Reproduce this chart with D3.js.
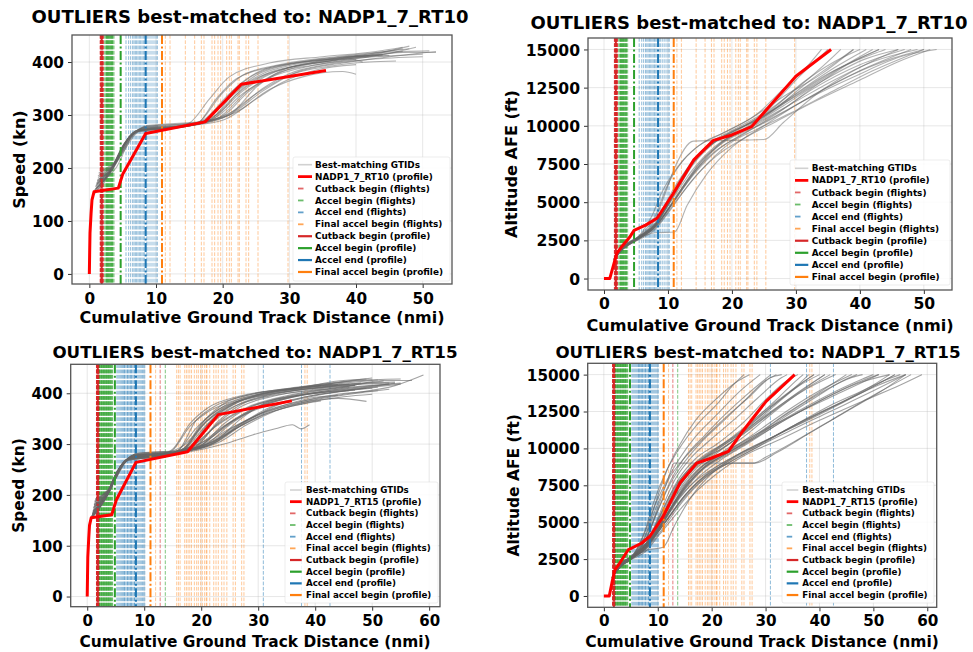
<!DOCTYPE html>
<html>
<head>
<meta charset="utf-8">
<script src="https://cdn.jsdelivr.net/npm/d3@7"></script>
<style>
  body { margin: 0; background: #fff; }
  svg { display: block; }
  text { font-family: "DejaVu Sans", sans-serif; font-weight: bold; fill: #000; }
</style>
</head>
<body>
<svg id="chart" width="973" height="652"></svg>
<script>
// ---------------------------------------------------------------------------
// Tick values
// ---------------------------------------------------------------------------
const xTicksRT10 = [0, 10, 20, 30, 40, 50];
const xTicksRT15 = [0, 10, 20, 30, 40, 50, 60];
const speedTicks = [0, 100, 200, 300, 400];
const altTicks = [0, 2500, 5000, 7500, 10000, 12500, 15000];

// ---------------------------------------------------------------------------
// Legend labels
// ---------------------------------------------------------------------------
const legendRT10 = ["Best-matching GTIDs", "NADP1_7_RT10 (profile)",
  "Cutback begin (flights)", "Accel begin (flights)", "Accel end (flights)", "Final accel begin (flights)",
  "Cutback begin (profile)", "Accel begin (profile)", "Accel end (profile)", "Final accel begin (profile)"];
const legendRT15 = ["Best-matching GTIDs", "NADP1_7_RT15 (profile)",
  "Cutback begin (flights)", "Accel begin (flights)", "Accel end (flights)", "Final accel begin (flights)",
  "Cutback begin (profile)", "Accel begin (profile)", "Accel end (profile)", "Final accel begin (profile)"];

// ---------------------------------------------------------------------------
// Reference procedure profiles: [distance nmi, value]
// ---------------------------------------------------------------------------
const rt10SpeedProfile = [[0,0],[0.05,40],[0.1,77],[0.26,114],[0.4,140],[0.7,155],[4.35,162],[5.0,188],[8.45,265],[17.35,287],[22.8,358],[35.5,384]];
const rt10AltProfile = [[0,0],[0.9,0],[1.5,900],[2.0,1650],[2.8,2100],[4.0,2700],[4.7,3150],[6.5,3500],[8.3,3950],[10.8,5550],[14,7750],[17.1,9050],[20,9400],[23.1,9950],[25.5,11100],[30,13250],[35.5,15000]];
const rt15SpeedProfile = [[0,0],[0.05,40],[0.1,77],[0.26,114],[0.4,140],[0.7,155],[4.3,161],[5.1,190],[8.55,264],[17.6,285],[23.0,358],[35.9,385]];
const rt15AltProfile = [[0,0],[1.0,0],[1.5,900],[2.04,1765],[2.8,2150],[4.5,3120],[6.97,3575],[8.5,4030],[11,5380],[14.1,7650],[17.2,9000],[20,9350],[23.1,9800],[25.8,11180],[30.1,13190],[35.4,15000]];

// Profile event distances: cutback, accel begin, accel end, final accel begin
const rt10ProfileEvents = [1.85, 4.7, 8.45, 10.9];
const rt15ProfileEvents = [1.85, 4.85, 8.55, 11.1];

// ---------------------------------------------------------------------------
// Per-flight event distances (nmi)
// ---------------------------------------------------------------------------
const rt10CutbackFlights = [1.62,1.66,1.7,1.73,1.76,1.79,1.82,1.85,1.88,1.9,1.92,1.95,1.98,2.01,2.04,2.07,1.74,1.87,1.96,2.1];
const rt10AccelBeginFlights = [2.3,2.45,2.55,2.65,2.75,2.85,2.95,3.05,3.15,3.25,3.35,3.45,3.55,3.7,2.6,2.9,3.1,3.3,3.5,2.7];
const rt10AccelEndFlights = [5.5,5.9,6.2,6.5,6.7,6.9,7.1,7.3,7.5,7.7,7.9,8.1,8.3,8.6,8.8,9.1,9.4,9.7,10.0,10.2];
const rt10FinalAccelFlights = [11.4,12.1,14.4,15.8,16.8,17.2,18.4,18.8,19.3,19.7,20.6,21.0,21.3,22.3,22.5,23.5,23.9,25.3,29.8];

const rt15CutbackFlights = [1.62,1.65,1.68,1.7,1.72,1.74,1.76,1.78,1.8,1.82,1.84,1.86,1.88,1.9,1.92,1.94,1.96,1.98,2.0,2.02,2.04,2.06,2.08,2.1,1.75,1.83,1.91,1.99,12.8];
const rt15AccelBeginFlights = [2.15,2.25,2.35,2.45,2.55,2.65,2.75,2.85,2.95,3.05,3.15,3.25,3.35,3.45,3.55,3.65,3.75,3.85,3.95,4.05,4.15,4.25,4.35,4.45,2.5,2.8,3.1,3.4,3.7,4.0,13.7];
const rt15AccelEndFlights = [5.2,5.4,5.6,5.8,6.0,6.2,6.4,6.6,6.8,7.0,7.2,7.4,7.6,7.8,8.0,8.2,8.4,8.7,8.9,9.1,9.3,9.5,9.7,9.9,10.1,6.5,7.1,7.7,8.3,30.9,37.6,42.6];
const rt15FinalAccelFlights = [12.0,15.7,16.0,16.3,17.1,17.4,17.7,18.0,18.3,18.8,19.2,19.5,19.9,20.2,20.6,20.9,21.0,21.5,22.2,22.6,23.0,23.6,24.0,24.5,25.6,26.0,27.1,27.5,38.2,38.6];

// ---------------------------------------------------------------------------
// Flight traces, flat [x0, y0, x1, y1, ...]
// ---------------------------------------------------------------------------
const rt10SpeedTraces = [
  [0.9,155, 2.2,172, 3.2,195, 5.5,250, 7.2,270, 13,278, 17,290, 21,340, 25,378, 32,400, 40,412, 47,425],
  [1.1,170, 2.0,182, 3.5,205, 6.0,258, 7.8,275, 15,282, 19,300, 23,345, 28,382, 36,402, 44,418, 51,421],
  [0.7,150, 1.8,168, 2.8,188, 4.8,235, 6.8,268, 12,275, 16,282, 19,330, 22,368, 28,392, 36,405, 42,412],
  [1.3,185, 2.4,195, 3.8,210, 6.2,255, 8.2,278, 16,285, 21,300, 26,345, 31,380, 38,398, 45,410, 52,420],
  [1.0,160, 2.5,180, 4.0,200, 6.5,262, 8.0,272, 14,277, 18,295, 22,352, 26,385, 33,402, 39,406, 41,400],
  [0.8,158, 2.1,175, 3.1,192, 5.2,245, 7.0,270, 13,276, 17,285, 20,320, 24,362, 30,390, 37,404, 44,414, 49,428],
  [1.2,175, 2.3,190, 3.6,205, 5.8,252, 7.6,273, 15,280, 20,295, 25,340, 30,375, 36,392, 42,400, 46,402],
  [0.9,165, 2.0,180, 3.3,198, 5.6,250, 7.4,272, 14,279, 18,288, 23,350, 27,380, 34,398, 40,408, 48,430],
  [1.4,190, 2.6,200, 4.2,215, 6.8,262, 8.6,280, 17,288, 22,305, 27,348, 32,372, 38,382, 40,377],
  [1.0,168, 2.2,180, 3.4,196, 5.4,248, 7.2,270, 12,275, 15,285, 18,330, 21,372, 27,398, 35,410, 43,420, 47,428],
  [0.8,155, 1.9,172, 3.0,190, 5.0,240, 6.9,268, 14,278, 18,290, 22,338, 26,372, 32,395, 39,410, 45,412],
  [1.2,178, 2.4,188, 3.7,203, 6.1,256, 8.0,276, 16,284, 20,298, 24,345, 29,382, 35,400, 43,410, 50,415],
  [1.0,162, 2.2,176, 3.2,192, 5.3,246, 7.1,270, 13,277, 17,286, 21,335, 25,375, 31,398, 38,410, 44,413],
  [1.1,172, 2.3,185, 3.5,200, 6.0,258, 7.9,274, 15,281, 19,292, 24,348, 28,378, 34,395, 41,408, 47,418, 52,418],
  [0.9,160, 2.0,176, 3.1,193, 5.1,243, 7.0,269, 14,279, 19,296, 23,340, 27,370, 33,392, 40,404],
  [1.3,182, 2.5,193, 3.9,208, 6.4,260, 8.3,277, 17,287, 22,310, 26,350, 30,378, 36,396, 42,405, 50,410],
  [0.8,158, 2.0,174, 3.0,190, 5.0,242, 6.8,267, 12,274, 16,283, 20,342, 23,375, 29,396, 37,410, 43,418, 48,425],
  [1.1,170, 2.2,182, 3.4,198, 5.7,252, 7.5,272, 15,280, 20,290, 25,330, 29,362, 34,385, 40,395],
  [1.0,165, 2.4,182, 3.6,200, 5.9,255, 7.7,273, 14,278, 18,290, 22,345, 26,378, 31,396, 38,408, 44,415],
  [1.2,175, 2.1,185, 3.3,197, 5.5,250, 7.3,271, 16,283, 21,300, 25,352, 29,385, 35,402, 42,412, 47,420]
];

const rt10AltTraces = [
  [1.6,1300, 3,2000, 5,2600, 8,3500, 11,5500, 14,7500, 17,8800, 21,9800, 26,11000, 31,12800, 36,14200, 40,15000],
  [1.8,1500, 3.2,2100, 5.5,2700, 8.5,3800, 10,5200, 13,7200, 16,8600, 20,9600, 25,10600, 30,12000, 36,13600, 43,15000],
  [1.5,1200, 2.8,1900, 4.8,2500, 7.5,3200, 10.5,4800, 14,6800, 18,8500, 22,9500, 27,10800, 33,12500, 40,14000, 47,15000],
  [1.7,1400, 3.0,2050, 5.2,2650, 8.0,3900, 9.5,5500, 11,7200, 14,9000, 25,9100, 28,10200, 33,12000, 39,13600, 46,15000],
  [1.6,1350, 3.1,2000, 5.0,2550, 8.0,3000, 11,3050, 13,4800, 16,6800, 20,8600, 25,10000, 31,11600, 38,13200, 45,14400, 50,15000],
  [1.9,1600, 3.3,2200, 5.6,2800, 8.2,3600, 11,5800, 14,7800, 17,9000, 21,9900, 26,11200, 30,13000, 33,14200, 35,15000],
  [1.5,1250, 2.9,1950, 4.9,2450, 7.8,3300, 10.8,5000, 14.5,7200, 18,8800, 23,10000, 28,11300, 34,12900, 41,14400, 46,15000],
  [1.7,1450, 3.0,2050, 5.3,2600, 8.4,3700, 11.5,6000, 15,8200, 19,9400, 24,10400, 29,11800, 35,13400, 42,14700, 44,15000],
  [1.6,1300, 3.1,2000, 5.1,2500, 8.0,3400, 10.2,4600, 13,6400, 17,8200, 21,9300, 26,10400, 32,11800, 39,13200, 47,14600, 52,15000],
  [1.8,1550, 3.2,2150, 5.4,2750, 7.9,4000, 9.8,6000, 12.5,7800, 15.5,8900, 19,9600, 24,10800, 28,12400, 32,14000, 34,15000],
  [1.5,1200, 2.9,1900, 5.0,2500, 8.3,3500, 11.2,5300, 15,7600, 19,9100, 24,10200, 30,11600, 36,13000, 42,14200, 49,15000],
  [1.7,1400, 3.0,2000, 5.2,2600, 8.1,3600, 10.6,5400, 13.5,7400, 16.5,8700, 20,9500, 25,10700, 31,12200, 37,13800, 42,15000],
  [1.6,1350, 3.1,2050, 5.3,2650, 8.6,3800, 11.8,5700, 15.5,7800, 19,9000, 23,9800, 28,10900, 34,12300, 41,13800, 48,15000],
  [1.9,1600, 3.3,2250, 5.5,2800, 7.6,4200, 9.0,5600, 11.5,7300, 14.5,8600, 18,9400, 23,10500, 28,11900, 34,13400, 39,15000],
  [1.5,1250, 2.8,1900, 4.7,2400, 7.7,3100, 10.4,4500, 13.5,6300, 17.5,8000, 22,9200, 27,10300, 33,11600, 40,13000, 46,14200, 51,15000],
  [1.7,1450, 3.0,2100, 5.4,2700, 8.5,3900, 11,5500, 14,7600, 17.5,9000, 22,9800, 27,11200, 32,12900, 37,14400, 39,15000],
  [1.6,1300, 3.0,2000, 5.0,2550, 8.2,3500, 11.0,5100, 14.8,7300, 18.5,8900, 23,9900, 28,11100, 33,12600, 38,14000, 43,15000],
  [1.8,1500, 3.2,2100, 5.3,2700, 8.3,3700, 10.9,5600, 14.2,7700, 17.8,9100, 22,10000, 27,11400, 32,13100, 36,14600, 37,15000],
  [1.5,1200, 2.9,1950, 4.9,2500, 8.0,3300, 11.3,5100, 15.2,7100, 19.5,8800, 24,9800, 29,10800, 35,12100, 42,13600, 50,15000],
  [1.7,1400, 3.1,2050, 5.1,2600, 8.0,3600, 10.7,5200, 13.8,7100, 17.2,8600, 21,9600, 26,10900, 31,12400, 36,13800, 41,15000]
];

const rt15SpeedTraces = [
  [0.8,158, 2.1,175, 3.2,195, 5.5,250, 7.3,272, 13,280, 17,298, 21,345, 26,380, 33,400, 41,412, 48,420],
  [1.0,165, 2.3,182, 3.6,203, 6.0,258, 7.9,276, 15,283, 19,300, 23,340, 28,372, 35,395, 43,410, 52,424],
  [0.7,155, 1.9,170, 2.9,188, 4.9,238, 6.8,267, 12,276, 15,290, 18,340, 21,370, 27,395, 35,408, 44,422, 50,430],
  [1.3,188, 2.5,197, 3.9,212, 6.4,262, 8.4,280, 17,288, 22,305, 27,340, 32,368, 38,385, 45,398, 54,415, 59,436],
  [0.9,162, 2.2,178, 3.4,198, 5.7,253, 7.6,273, 14,280, 18,292, 22,330, 27,365, 33,388, 40,400, 46,405],
  [1.1,172, 2.4,186, 3.7,205, 6.2,260, 8.1,278, 16,285, 21,300, 26,335, 31,362, 37,380, 44,390, 49,384],
  [0.8,157, 2.0,173, 3.1,192, 5.2,245, 7.0,270, 13,278, 17,290, 20,335, 24,372, 30,396, 38,410, 45,420, 51,426],
  [1.2,180, 2.3,190, 3.6,206, 5.9,256, 7.8,275, 18,285, 24,300, 29,318, 33,330, 36,338, 37.5,330, 39,338],
  [1.0,167, 2.2,180, 3.4,197, 5.6,251, 7.4,272, 14,279, 18,296, 22,350, 26,382, 32,402, 40,414, 47,425, 55,428],
  [0.9,160, 2.1,176, 3.3,195, 5.4,248, 7.2,271, 15,281, 20,298, 25,342, 30,375, 37,395, 45,410, 53,418],
  [1.4,192, 2.6,200, 4.1,216, 6.7,264, 8.7,282, 16,288, 21,308, 26,348, 31,378, 38,398, 46,410, 55,420],
  [0.8,158, 2.0,174, 3.0,190, 5.0,240, 6.9,268, 12,275, 16,288, 19,345, 22,372, 28,396, 36,410, 43,418],
  [1.1,175, 2.3,187, 3.5,202, 5.8,254, 7.7,274, 15,282, 19,295, 24,335, 29,365, 35,385, 42,400, 50,410],
  [1.0,168, 2.4,183, 3.7,203, 6.1,258, 8.0,277, 17,286, 22,302, 27,350, 31,380, 37,398, 45,412, 52,425, 57,425],
  [0.7,152, 1.9,170, 2.9,187, 4.8,236, 6.7,266, 13,277, 17,290, 21,338, 25,370, 31,392, 39,405, 46,412],
  [1.2,182, 2.5,193, 3.8,208, 6.3,260, 8.2,278, 18,287, 23,303, 28,338, 33,365, 39,385, 46,398, 53,408],
  [0.9,163, 2.1,177, 3.3,196, 5.5,249, 7.3,271, 14,279, 17,292, 20,340, 24,375, 30,398, 37,410, 44,424, 49,428],
  [1.1,170, 2.2,182, 3.4,199, 5.7,252, 7.5,272, 16,283, 21,298, 26,330, 31,358, 36,375, 41,385],
  [1.0,166, 2.3,181, 3.6,201, 5.9,255, 7.8,275, 15,282, 19,294, 23,345, 27,378, 33,398, 41,412, 48,420, 54,422],
  [1.3,185, 2.4,194, 3.8,209, 6.2,259, 8.1,277, 16,285, 20,298, 24,340, 28,370, 34,390, 41,402, 47,406],
  [0.8,156, 2.0,172, 3.1,191, 5.1,243, 7.0,269, 13,277, 16,288, 19,330, 23,368, 29,392, 36,405, 42,412, 47,416],
  [1.2,178, 2.4,188, 3.7,204, 6.0,257, 7.9,276, 17,285, 22,300, 27,340, 32,372, 38,392, 45,405, 51,412],
  [0.9,161, 2.2,177, 3.4,197, 5.6,250, 7.4,272, 14,279, 18,293, 22,348, 26,380, 31,400, 39,413, 46,418],
  [1.0,169, 2.3,183, 3.5,200, 5.8,254, 7.6,273, 15,281, 20,297, 25,330, 30,358, 35,378, 40,392, 44,396],
  [1.1,174, 2.1,184, 3.3,198, 5.5,250, 7.4,272, 14,280, 17,292, 21,352, 24,380, 29,398, 37,412, 45,422, 50,426],
  [0.8,159, 2.2,176, 3.4,196, 5.7,252, 7.6,273, 16,283, 21,300, 25,338, 30,372, 36,392, 43,405, 49,412, 54,420],
  [1.4,190, 2.5,198, 4.0,213, 6.6,263, 8.5,281, 18,288, 23,306, 28,345, 33,375, 40,395, 47,408, 55,418],
  [0.9,162, 2.1,176, 3.2,194, 5.3,247, 7.1,270, 12,275, 15,288, 18,335, 21,362, 27,390, 34,405, 41,415],
  [1.2,180, 2.4,190, 3.6,205, 6.1,258, 8.0,277, 17,286, 22,301, 26,330, 31,360, 37,382, 44,398, 51,405],
  [1.0,167, 2.2,180, 3.5,199, 5.8,253, 7.7,274, 15,282, 19,296, 23,342, 27,374, 33,395, 40,408, 47,415],
  [0.8,157, 2.0,173, 3.1,191, 5.2,244, 7.0,269, 14,279, 18,294, 22,343, 26,375, 32,397, 40,410, 48,418, 53,420],
  [1.1,176, 2.3,186, 3.6,202, 6.0,256, 7.9,275, 16,284, 20,297, 24,335, 29,368, 35,390, 42,403, 49,410],
  [0.9,164, 2.1,178, 3.3,196, 5.5,249, 7.3,271, 13,278, 17,292, 21,345, 25,377, 31,398, 38,410, 44,417],
  [1.3,186, 2.5,196, 3.9,210, 6.3,261, 8.3,279, 17,287, 22,304, 27,336, 32,362, 38,380, 45,393, 50,398]
];

const rt15AltTraces = [
  [1.6,1300, 3,2000, 5,2600, 8,3500, 11,5400, 14,7400, 17,8800, 21,9900, 26,11200, 31,12800, 36,14200, 40,15000],
  [1.8,1500, 3.2,2100, 5.5,2700, 8.4,3800, 10.2,5300, 13,7300, 16,8700, 20,9800, 25,11000, 30,12600, 35,14000, 39,15000],
  [1.5,1200, 2.8,1900, 4.8,2500, 7.5,3200, 10.5,4700, 14,6600, 18,8200, 22,9300, 27,10400, 33,11800, 40,13200, 47,14400, 53,15000],
  [1.7,1400, 3.0,2050, 5.2,2700, 7.8,4200, 9.5,6200, 11.8,8600, 14,10200, 17,11900, 21,13400, 25,14600, 27,15000],
  [1.6,1350, 3.1,2000, 5.0,2550, 8.0,3100, 11,3300, 13,4700, 16,6600, 20,8300, 25,9600, 31,10700, 38,12000, 45,13300, 52,14600, 55,15000],
  [1.9,1600, 3.3,2200, 5.6,2800, 8.2,3700, 11,5900, 14,8000, 17,9300, 21,10300, 26,11800, 30,13300, 34,14600, 36,15000],
  [1.5,1250, 2.9,1950, 4.9,2450, 7.8,3300, 10.8,4900, 14.5,7000, 18,8500, 23,9700, 28,10800, 34,12100, 41,13500, 48,14700, 50,15000],
  [1.7,1450, 3.0,2050, 5.3,2600, 8.0,4000, 10,6000, 12,8000, 13,9000, 27.7,9000, 30,9400, 36,10600, 43,12100, 51,13800, 57,15000],
  [1.6,1300, 3.1,2000, 5.1,2500, 8.0,3400, 10.2,4500, 13,6200, 17,7800, 21,8800, 26,9800, 32,10900, 40,12300, 48,13800, 54,15000],
  [1.8,1550, 3.2,2150, 5.4,2750, 7.6,4400, 9.3,6400, 11.5,8400, 14,10000, 17.5,11700, 21,13000, 24,14300, 26,15000],
  [1.5,1200, 2.9,1900, 5.0,2500, 8.3,3500, 11.2,5200, 15,7500, 19,9000, 24,10100, 30,11300, 37,12600, 44,13800, 51,15000],
  [1.7,1400, 3.0,2000, 5.2,2600, 8.1,3600, 10.6,5300, 13.5,7300, 16.5,8700, 20,9700, 25,10900, 31,12500, 37,14000, 41,15000],
  [1.6,1350, 3.1,2050, 5.3,2650, 8.6,3800, 11.8,5600, 15.5,7600, 19,8800, 23,9700, 28,10700, 34,12000, 41,13400, 48,14600, 51,15000],
  [1.9,1600, 3.3,2250, 5.5,2800, 7.6,4300, 9.2,5900, 11.5,7700, 14,9300, 17,10800, 21,12300, 25,13800, 29,15000],
  [1.5,1250, 2.8,1900, 4.7,2400, 7.7,3000, 10.4,4200, 14,5800, 17.5,7200, 21,8300, 26,9500, 32,10500, 40,11900, 48,13200, 55,14300, 59,15000],
  [1.7,1450, 3.0,2100, 5.4,2700, 8.5,3900, 11,5600, 14,7700, 17.5,9100, 22,10000, 27,11400, 32,13000, 37,14500, 39,15000],
  [1.6,1300, 3.0,2000, 5.0,2550, 8.2,3500, 11,5000, 14.8,7100, 18.5,8600, 23,9600, 28,10700, 33,12000, 39,13400, 45,14700, 47,15000],
  [1.8,1500, 3.2,2100, 5.3,2700, 8.3,3700, 10.9,5700, 14.2,7900, 17.8,9300, 22,10300, 27,11700, 32,13300, 36,14700, 37,15000],
  [1.5,1200, 2.9,1950, 4.9,2500, 8.0,3300, 11.3,5000, 15.2,6900, 19.5,8400, 24,9400, 29,10300, 35,11500, 42,12900, 50,14300, 53,15000],
  [1.7,1400, 3.1,2050, 5.1,2600, 8.0,3600, 10.7,5100, 13.8,7000, 17.2,8500, 21,9500, 26,10800, 31,12300, 36,13700, 42,15000],
  [1.6,1350, 3.0,2000, 5.1,2650, 7.9,3900, 10,5800, 12.5,7900, 15,9400, 18.5,10800, 22.5,12300, 27,13800, 31,15000],
  [1.8,1550, 3.2,2150, 5.5,2750, 8.4,3600, 11.4,5000, 15,6800, 19,8200, 24,9000, 28,9000, 32,9700, 38,11000, 45,12500, 52,14000, 56,15000],
  [1.5,1250, 2.9,1950, 5.0,2500, 8.1,3400, 10.9,5300, 14,7400, 17.5,8900, 21.5,9900, 26,11000, 31,12400, 37,13900, 43,15000],
  [1.7,1450, 3.1,2100, 5.2,2650, 8.2,3500, 11.2,4900, 14.8,6700, 18.8,8100, 23,9100, 28,10100, 34,11300, 41,12600, 49,14000, 54,15000],
  [1.6,1300, 3.0,2000, 4.9,2550, 7.7,3800, 9.8,5600, 12.3,7600, 15,9100, 18,10400, 22,11800, 26,13200, 30,14600, 32,15000],
  [1.8,1500, 3.2,2150, 5.4,2750, 8.5,3700, 11.6,5500, 15.3,7500, 19,8900, 23.5,9900, 28.5,11000, 34,12400, 40,13800, 45,15000],
  [1.5,1200, 2.8,1900, 4.8,2450, 7.9,3200, 11,4600, 14.6,6400, 18.5,7900, 23,9000, 28,10000, 34,11100, 42,12500, 50,13900, 56,15000],
  [1.7,1400, 3.0,2050, 5.1,2600, 7.7,4000, 9.6,5900, 12,7900, 14.6,9200, 18,10500, 22,11900, 27,13500, 31,14800, 33,15000],
  [1.6,1350, 3.1,2050, 5.3,2650, 8.3,3600, 11.1,5200, 14.5,7200, 18,8700, 22.5,9700, 27.5,10900, 33,12300, 39,13700, 46,15000],
  [1.8,1550, 3.2,2200, 5.5,2800, 8.6,3800, 11.5,5400, 15,7300, 18.5,8700, 23,9700, 28,10800, 33,12100, 39,13500, 46,14800, 48,15000],
  [1.5,1250, 2.9,1950, 5.0,2500, 7.9,3400, 10.5,5000, 13.6,7000, 17,8600, 21,9700, 25.5,10900, 30.5,12300, 36,13800, 41,15000],
  [1.7,1450, 3.0,2100, 5.2,2700, 8.1,3700, 10.8,5400, 14,7500, 17.3,9000, 21,10000, 26,11300, 31,12800, 36,14300, 38,15000],
  [1.6,1300, 3.0,2000, 5.0,2550, 8.0,3300, 11,4800, 14.8,6600, 18.7,8000, 23.5,9100, 29,10200, 35,11500, 43,12900, 51,14300, 56,15000],
  [1.8,1500, 3.3,2200, 5.6,2800, 8.4,3900, 10.6,5800, 13.2,7900, 16,9300, 19.5,10500, 24,11900, 28.5,13400, 33,14800, 34,15000]
];

// ---------------------------------------------------------------------------
// Styling
// ---------------------------------------------------------------------------
const eventColors = ["#d62728", "#2ca02c", "#1f77b4", "#ff7f0e"];
const flightOpacity = [0.6, 0.6, 0.5, 0.42];
const flightDash = "3.7,1.6";
const profileDash = "9,2.5,2,2.5";

const rt10Flights = [rt10CutbackFlights, rt10AccelBeginFlights, rt10AccelEndFlights, rt10FinalAccelFlights];
const rt15Flights = [rt15CutbackFlights, rt15AccelBeginFlights, rt15AccelEndFlights, rt15FinalAccelFlights];

const panels = [
  {
    title: "OUTLIERS best-matched to: NADP1_7_RT10", yLabel: "Speed (kn)",
    traces: rt10SpeedTraces, profile: rt10SpeedProfile, flights: rt10Flights, events: rt10ProfileEvents,
    xTicks: xTicksRT10, yTicks: speedTicks, legendLabels: legendRT10, traceOpacity: 0.5,
    box: { l: 72, r: 452, t: 35, b: 284 }, xDom: [-2.6, 54.4], yDom: [-19, 451],
    titleX: 250, titleY: 22.7, titleSize: 18, tickSize: 15.3, labelSize: 16,
    xTickY: 304, xLabelX: 262, xLabelY: 323, yLabelX: 25,
    legend: { x: 293, y: 157, w: 157, h: 124, row0: 164.7, dy: 11.92, hx0: 298, hx1: 312, tx: 315, size: 8.9 }
  },
  {
    title: "OUTLIERS best-matched to: NADP1_7_RT10", yLabel: "Altitude AFE (ft)",
    traces: rt10AltTraces, profile: rt10AltProfile, flights: rt10Flights, events: rt10ProfileEvents,
    xTicks: xTicksRT10, yTicks: altTicks, legendLabels: legendRT10, traceOpacity: 0.5,
    box: { l: 588, r: 952, t: 38, b: 290 }, xDom: [-2.5, 54.4], yDom: [-750, 15750],
    titleX: 749, titleY: 29.3, titleSize: 18, tickSize: 15.6, labelSize: 16.1,
    xTickY: 309, xLabelX: 770, xLabelY: 331, yLabelX: 516.5,
    legend: { x: 790, y: 160, w: 160, h: 125, row0: 168.3, dy: 12.07, hx0: 795, hx1: 808.3, tx: 811.7, size: 8.9 }
  },
  {
    title: "OUTLIERS best-matched to: NADP1_7_RT15", yLabel: "Speed (kn)",
    traces: rt15SpeedTraces, profile: rt15SpeedProfile, flights: rt15Flights, events: rt15ProfileEvents,
    xTicks: xTicksRT15, yTicks: speedTicks, legendLabels: legendRT15, traceOpacity: 0.6,
    box: { l: 70.7, r: 440, t: 364.3, b: 606.7 }, xDom: [-2.9, 61.9], yDom: [-20, 457],
    titleX: 255, titleY: 357.7, titleSize: 16.7, tickSize: 15, labelSize: 15.4,
    xTickY: 626, xLabelX: 255, xLabelY: 647, yLabelX: 24,
    legend: { x: 285, y: 482, w: 153, h: 121, row0: 490, dy: 11.67, hx0: 290, hx1: 301.7, tx: 306, size: 8.7 }
  },
  {
    title: "OUTLIERS best-matched to: NADP1_7_RT15", yLabel: "Altitude AFE (ft)",
    traces: rt15AltTraces, profile: rt15AltProfile, flights: rt15Flights, events: rt15ProfileEvents,
    xTicks: xTicksRT15, yTicks: altTicks, legendLabels: legendRT15, traceOpacity: 0.6,
    box: { l: 587.7, r: 936.7, t: 363.3, b: 607.3 }, xDom: [-3.0, 61.75], yDom: [-767, 15767],
    titleX: 758, titleY: 357.7, titleSize: 16.7, tickSize: 15.2, labelSize: 15.5,
    xTickY: 626, xLabelX: 762, xLabelY: 647, yLabelX: 519,
    legend: { x: 782, y: 482, w: 152, h: 121, row0: 490, dy: 11.67, hx0: 786.7, hx1: 798.3, tx: 802.3, size: 8.7 }
  }
];

const svg = d3.select("#chart");

function toPairs(flat) {
  const out = [];
  for (let i = 0; i < flat.length; i += 2) out.push([flat[i], flat[i + 1]]);
  return out;
}

panels.forEach((p, idx) => {
  const { l, r, t, b } = p.box;
  const x = d3.scaleLinear().domain(p.xDom).range([l, r]);
  const y = d3.scaleLinear().domain(p.yDom).range([b, t]);
  const g = svg.append("g");

  const clipId = "clip" + idx;
  g.append("clipPath").attr("id", clipId)
    .append("rect").attr("x", l).attr("y", t).attr("width", r - l).attr("height", b - t);

  // grid
  const grid = g.append("g").attr("stroke", "#b0b0b0").attr("stroke-opacity", 0.3).attr("stroke-width", 1);
  p.xTicks.forEach(v => grid.append("line").attr("x1", x(v)).attr("x2", x(v)).attr("y1", t).attr("y2", b));
  p.yTicks.forEach(v => grid.append("line").attr("x1", l).attr("x2", r).attr("y1", y(v)).attr("y2", y(v)));

  const plot = g.append("g").attr("clip-path", `url(#${clipId})`);

  // per-flight event markers
  p.flights.forEach((arr, k) => {
    plot.append("g").selectAll("line").data(arr).join("line")
      .attr("x1", d => x(d)).attr("x2", d => x(d)).attr("y1", t).attr("y2", b)
      .attr("stroke", eventColors[k]).attr("stroke-opacity", flightOpacity[k]).attr("stroke-width", 1)
      .attr("stroke-dasharray", flightDash);
  });

  // flight traces
  const line = d3.line().x(d => x(d[0])).y(d => y(d[1])).curve(d3.curveMonotoneX);
  plot.append("g").selectAll("path").data(p.traces).join("path")
    .attr("d", d => line(toPairs(d)))
    .attr("fill", "none").attr("stroke", "#666").attr("stroke-opacity", p.traceOpacity).attr("stroke-width", 1.1);

  // profile event markers
  p.events.forEach((v, k) => {
    plot.append("line").attr("x1", x(v)).attr("x2", x(v)).attr("y1", t).attr("y2", b)
      .attr("stroke", eventColors[k]).attr("stroke-width", 2).attr("stroke-dasharray", profileDash);
  });

  // profile curve
  const pline = d3.line().x(d => x(d[0])).y(d => y(d[1]));
  plot.append("path").attr("d", pline(p.profile))
    .attr("fill", "none").attr("stroke", "#ff0000").attr("stroke-width", 3)
    .attr("stroke-linejoin", "round").attr("stroke-linecap", "butt");

  // axes
  const xAxis = g.append("g").attr("transform", `translate(0,${b})`)
    .call(d3.axisBottom(x).tickValues(p.xTicks).tickSize(4).tickPadding(3).tickFormat(d3.format("d")));
  const yAxis = g.append("g").attr("transform", `translate(${l},0)`)
    .call(d3.axisLeft(y).tickValues(p.yTicks).tickSize(4).tickPadding(3).tickFormat(d3.format("d")));
  [xAxis, yAxis].forEach(a => {
    a.select(".domain").remove();
    a.selectAll(".tick line").attr("stroke", "#333").attr("stroke-width", 1);
    a.selectAll(".tick text").attr("font-size", p.tickSize).attr("font-family", "DejaVu Sans")
      .attr("font-weight", "bold").attr("fill", "#000");
  });
  xAxis.selectAll(".tick text").attr("y", null).attr("dy", null)
    .attr("transform", `translate(0,${p.xTickY - b})`);
  yAxis.selectAll(".tick text").attr("x", -8).attr("dy", "0.36em");

  g.append("rect").attr("x", l).attr("y", t).attr("width", r - l).attr("height", b - t)
    .attr("fill", "none").attr("stroke", "#555").attr("stroke-width", 1.3);

  // labels
  g.append("text").attr("x", p.titleX).attr("y", p.titleY).attr("text-anchor", "middle")
    .attr("font-size", p.titleSize).text(p.title);
  g.append("text").attr("x", p.xLabelX).attr("y", p.xLabelY).attr("text-anchor", "middle")
    .attr("font-size", p.labelSize).text("Cumulative Ground Track Distance (nmi)");
  g.append("text").attr("transform", `translate(${p.yLabelX},${(t + b) / 2}) rotate(-90)`)
    .attr("text-anchor", "middle").attr("font-size", p.labelSize).text(p.yLabel);

  // legend
  const L = p.legend;
  const lg = g.append("g");
  lg.append("rect").attr("x", L.x).attr("y", L.y).attr("width", L.w).attr("height", L.h)
    .attr("rx", 2).attr("fill", "#fff").attr("fill-opacity", 0.85)
    .attr("stroke", "#d9d9d9").attr("stroke-opacity", 0.6).attr("stroke-width", 0.8);
  p.legendLabels.forEach((label, i) => {
    const cy = L.row0 + i * L.dy;
    const h = lg.append("line").attr("x1", L.hx0).attr("x2", L.hx1).attr("y1", cy).attr("y2", cy);
    if (i === 0) {
      h.attr("stroke", "#7a7a7a").attr("stroke-opacity", 0.35).attr("stroke-width", 1.6);
    } else if (i === 1) {
      h.attr("stroke", "#ff0000").attr("stroke-width", 2.8);
    } else if (i < 6) {
      h.attr("stroke", eventColors[i - 2]).attr("stroke-opacity", 0.7).attr("stroke-width", 1.8)
        .attr("stroke-dasharray", "5.5,10");
    } else {
      h.attr("stroke", eventColors[i - 6]).attr("stroke-width", 2.2);
    }
    lg.append("text").attr("x", L.tx).attr("y", cy).attr("dy", "0.35em")
      .attr("font-size", L.size).text(label);
  });
});
</script>
</body>
</html>
